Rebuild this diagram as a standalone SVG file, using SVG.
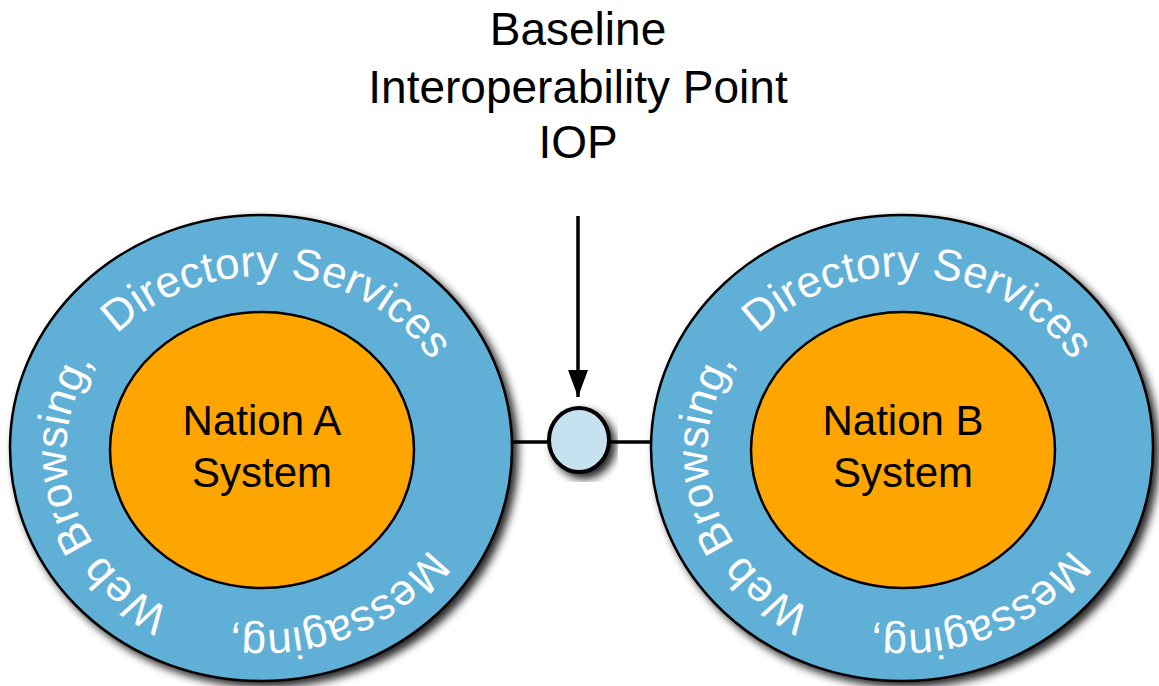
<svg xmlns="http://www.w3.org/2000/svg" xmlns:xlink="http://www.w3.org/1999/xlink" width="1159" height="686" viewBox="0 0 1159 686">
  <style>
    .title { font-family: "Liberation Sans", Arial, sans-serif; font-size: 46px; fill: #000; text-anchor: middle; }
    .label { font-family: "Liberation Sans", Arial, sans-serif; font-size: 42px; fill: #000; text-anchor: middle; }
    .ring { font-family: "Liberation Sans", Arial, sans-serif; font-size: 44px; fill: #ffffff; text-anchor: middle; }
    .outer { fill: #5fafd6; stroke: #000; stroke-width: 2.5; filter: url(#shadow); }
    .inner { fill: #ffa500; stroke: #000; stroke-width: 2.5; }
    .iop { fill: #c6e2f1; stroke: #000; stroke-width: 4; filter: url(#shadow); }
    .conn { stroke: #000; stroke-width: 3.5; fill: none; }
  </style>
  <defs>
    <filter id="shadow" x="-10%" y="-10%" width="125%" height="125%">
      <feDropShadow dx="5" dy="5" stdDeviation="4" flood-color="#000" flood-opacity="0.85"/>
    </filter>
    <marker id="arrow" markerUnits="userSpaceOnUse" markerWidth="28" markerHeight="20" refX="27" refY="10" orient="auto">
      <path d="M0,0 L27,10 L0,20 Z" fill="#000"/>
    </marker>
    <path id="tpA" d="M263,630 A197 177 0 1 1 263,276 A197 177 0 1 1 263,630 A197 177 0 1 1 263,276 A197 177 0 1 1 263,630"/>
    <path id="tpB" d="M904,630 A197 177 0 1 1 904,276 A197 177 0 1 1 904,630 A197 177 0 1 1 904,276 A197 177 0 1 1 904,630"/>
  </defs>

  <g id="title">
    <text class="title" x="578" y="45">Baseline</text>
    <text class="title" x="578" y="103">Interoperability Point</text>
    <text class="title" x="578" y="158">IOP</text>
  </g>

  <g id="connectors">
    <line class="conn" x1="510" y1="442" x2="655" y2="442"/>
    <line class="conn" x1="578" y1="216" x2="578" y2="397" marker-end="url(#arrow)"/>
  </g>

  <g id="nationA">
    <ellipse class="outer" cx="261" cy="448" rx="251" ry="233"/>
    <ellipse class="inner" cx="262" cy="450" rx="152" ry="138"/>
    <text class="ring"><textPath xlink:href="#tpA" startOffset="243">Web Browsing,</textPath></text>
    <text class="ring"><textPath xlink:href="#tpA" startOffset="605">Directory Services</textPath></text>
    <text class="ring"><textPath xlink:href="#tpA" startOffset="1096">Messaging,</textPath></text>
    <text class="label" x="262" y="435">Nation A</text>
    <text class="label" x="262" y="487">System</text>
  </g>

  <g id="nationB">
    <ellipse class="outer" cx="902" cy="448" rx="251" ry="233"/>
    <ellipse class="inner" cx="903" cy="450" rx="152" ry="138"/>
    <text class="ring"><textPath xlink:href="#tpB" startOffset="243">Web Browsing,</textPath></text>
    <text class="ring"><textPath xlink:href="#tpB" startOffset="605">Directory Services</textPath></text>
    <text class="ring"><textPath xlink:href="#tpB" startOffset="1096">Messaging,</textPath></text>
    <text class="label" x="903" y="435">Nation B</text>
    <text class="label" x="903" y="487">System</text>
  </g>

  <g id="iop">
    <ellipse class="iop" cx="579" cy="440" rx="30" ry="32"/>
  </g>
</svg>
